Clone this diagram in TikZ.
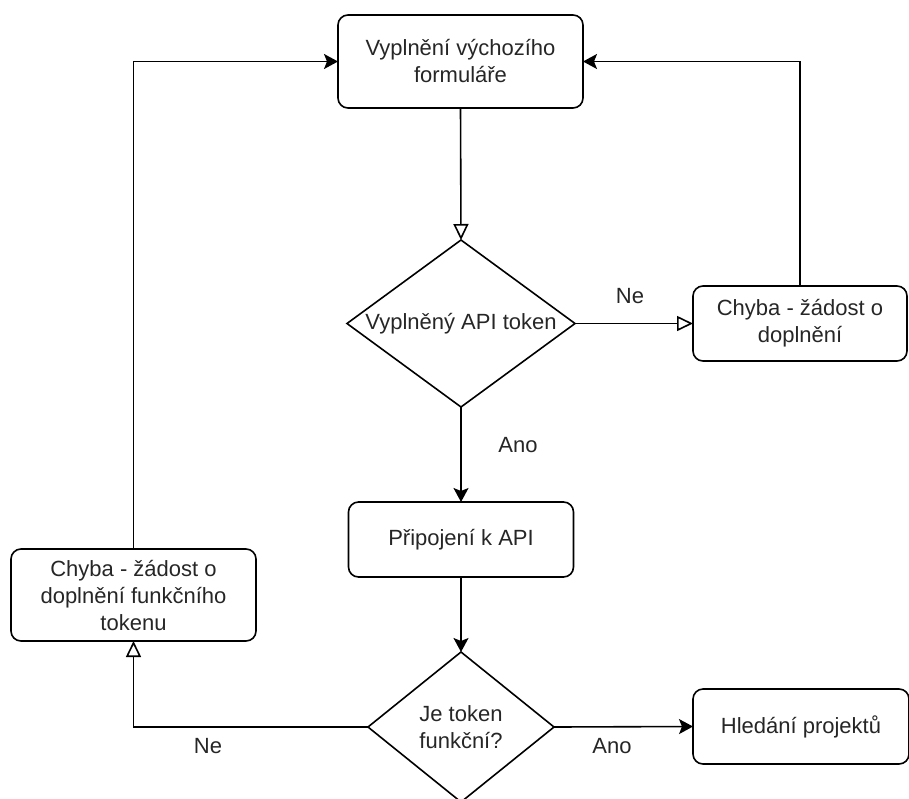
\documentclass[tikz,border=0pt]{standalone}
\usepackage{fontspec}
\setmainfont{Liberation Sans}
\usetikzlibrary{shapes.geometric,arrows.meta}
\begin{document}
\begin{tikzpicture}[x=1pt,y=-1pt,
  every node/.style={font=\fontsize{22}{27}\selectfont, text=black!85, align=center},
  proc/.style={draw, rounded corners=10pt, line width=1.6pt, inner sep=0pt, outer sep=0pt},
  dec/.style={draw, diamond, line width=1.6pt, inner sep=0pt, outer sep=0pt},
  flow/.style={line width=1.6pt, -{Stealth[length=14pt,width=15pt,inset=3pt]}},
  oflow/.style={line width=1.6pt, -{Triangle[open,length=16pt,width=15pt]}},
  lbl/.style={inner sep=0pt}
]
\useasboundingbox (0,0) rectangle (909,798);
\node[proc, minimum width=245pt, minimum height=93pt] (top) at (460.5,61.5) {Vyplnění výchozího\\formuláře};
\node[dec, minimum width=228pt, minimum height=167pt] (d1) at (461,323.5) {};
\node (d1t) at (461,323.5) {Vyplněný API token};
\node[proc, minimum width=214pt, minimum height=75pt] (rb) at (800,323.5) {Chyba - žádost o\\doplnění};
\node[proc, minimum width=225pt, minimum height=75pt] (conn) at (461,539.5) {Připojení k API};
\node[proc, minimum width=245pt, minimum height=92pt] (lb) at (133.5,595) {Chyba - žádost o\\doplnění funkčního\\tokenu};
\node[dec, minimum width=186pt, minimum height=150pt] (d2) at (461,727) {};
\node (d2t) at (461,727) {Je token\\funkční?};
\node[proc, minimum width=216pt, minimum height=75pt] (hl) at (801,726.5) {Hledání projektů};

\draw[oflow] (top.south) -- (d1.north);
\draw[oflow] (d1.east) -- (rb.west);
\node[lbl] (ne1) at (630,296) {Ne};
\draw[flow] (rb.north) |- (top.east);
\draw[flow] (d1.south) -- (conn.north);
\node[lbl] (ano1) at (518,445) {Ano};
\draw[flow] (conn.south) -- (d2.north);
\draw[flow] (d2.east) -- (hl.west);
\node[lbl] (ano2) at (612,746) {Ano};
\draw[oflow] (d2.west) -| (lb.south);
\node[lbl] (ne2) at (208,746) {Ne};
\draw[flow] (lb.north) |- (top.west);
\end{tikzpicture}
\end{document}
